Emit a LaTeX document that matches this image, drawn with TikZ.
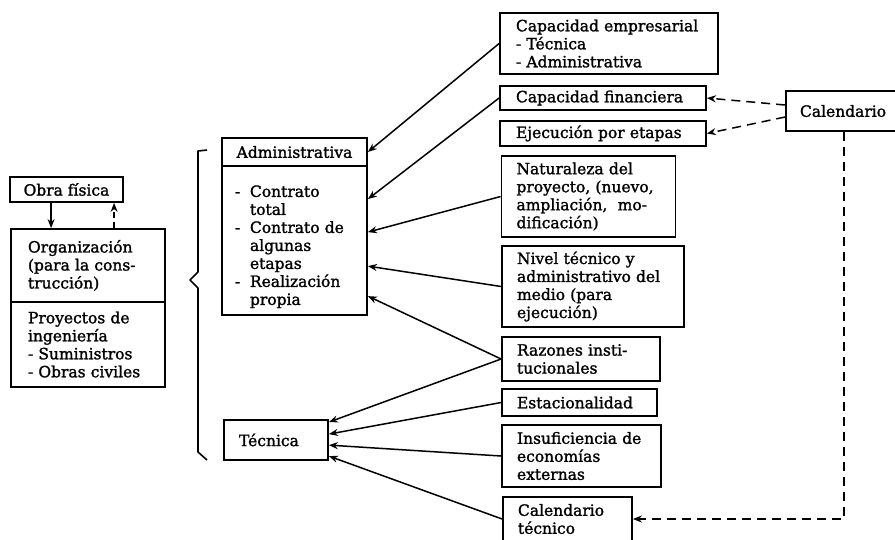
\documentclass[tikz,border=0pt]{standalone}
\usepackage{fontspec}
\setmainfont[FakeBold=1.5]{DejaVu Serif}
\usetikzlibrary{arrows.meta}
\newcommand\txtfont{\fontsize{15.5}{18}\selectfont}
\newcommand\itm{\makebox[15pt][l]{-}}
\newcommand\ind{\hspace*{15pt}}
\begin{document}
\begin{tikzpicture}[x=1pt,y=-1pt,
  box/.style={draw, line width=1.8pt, rectangle, inner xsep=15pt, inner ysep=0pt,
              align=left, font=\txtfont},
  arr/.style={line width=1.5pt, -{Stealth[length=9pt,width=7pt]}},
  darr/.style={arr, dash pattern=on 9pt off 6pt}]
\useasboundingbox (0,0) rectangle (895,539);
\fill[white] (0,0) rectangle (895,539);
\clip (0,0) rectangle (895,539);

% left column: physical work and its organisation
\node[box, align=center, minimum width=113pt, minimum height=25pt, inner xsep=4pt] (obra) at (66.5,189.5) {Obra física};
\node[box, inner xsep=17pt, text width=120pt, minimum height=73pt] (org1) at (88,265.5)
  {Organización\\(para la cons-\\trucción)};
\node[box, inner xsep=17pt, text width=120pt, minimum height=85pt] (org2) at (88,344.5)
  {Proyectos de\\ingeniería\\- Suministros\\- Obras civiles};

% middle column
\node[box, align=center, inner xsep=13pt, text width=119pt, minimum height=28pt] (adm) at (294.5,152) {Administrativa};
\node[box, inner xsep=13pt, text width=119pt, minimum height=149pt] (admb) at (294.5,240.5)
  {\rule{0pt}{24pt}\itm Contrato\\\ind total\\\itm Contrato de\\\ind algunas\\\ind etapas\\\itm Realización\\\ind propia};
\node[box, text width=74pt, minimum height=40pt] (tec) at (276,440) {Técnica};

% grouping brace
\draw[line width=1.6pt, line join=round] (207,150) -- (198,151) -- (198,272) -- (190,280)
  -- (198,288) -- (198,452) -- (207,460);

% right column
\node[box, inner xsep=16pt, text width=186pt, minimum height=61pt] (emp) at (609,43.5)
  {Capacidad empresarial\\- Técnica\\- Administrativa};
\node[box, inner xsep=16pt, text width=174pt, minimum height=24pt] (fin) at (603,98) {Capacidad financiera};
\node[box, inner xsep=16pt, text width=174pt, minimum height=25pt] (eje) at (603,133.5) {Ejecución por etapas};
\node[box, inner xsep=15pt, text width=144pt, minimum height=81pt] (nat) at (588.5,196.5)
  {Naturaleza del\\proyecto, (nuevo,\\ampliación, \ mo-\\dificación)};
\node[box, inner xsep=15pt, text width=152pt, minimum height=81pt] (niv) at (593,286.5)
  {Nivel técnico y\\administrativo del\\medio (para\\ejecución)};
\node[box, text width=128pt, minimum height=44pt] (raz) at (581,359)
  {Razones insti-\\tucionales};
\node[box, text width=125pt, minimum height=27pt] (est) at (579.5,402.5) {Estacionalidad};
\node[box, text width=129pt, minimum height=62pt] (ins) at (581.5,456)
  {Insuficiencia de\\economías\\externas};
\node[box, text width=99pt, minimum height=44pt] (calt) at (567.5,519)
  {Calendario\\técnico};
\node[box, inner xsep=14pt, text width=91pt, minimum height=40pt] (cal) at (845.5,111) {Calendario};

% links between the left boxes
\draw[arr] ([xshift=42pt]obra.south west) -- ([xshift=41pt]org1.north west);
\draw[arr, dash pattern=on 6pt off 4pt] ([xshift=104pt]org1.north west) -- ([xshift=105pt]obra.south west);

% factors for the administrative form
\draw[arr] (emp.west) -- (adm.east);
\draw[arr] (fin.west) -- ([yshift=-34pt]admb.north east);
\draw[arr] (nat.west) -- ([yshift=-67pt]admb.north east);
\draw[arr] (niv.west) -- ([yshift=-101pt]admb.north east);
\draw[arr] (raz.west) -- ([yshift=-131pt]admb.north east);

% factors for the technical form
\draw[arr] (raz.west) -- ([yshift=-3pt]tec.north east);
\draw[arr] (est.west) -- ([yshift=-15pt]tec.north east);
\draw[arr] (ins.west) -- ([yshift=-26pt]tec.north east);
\draw[arr] (calt.west) -- ([yshift=-37pt]tec.north east);

% schedule links
\draw[darr] ([yshift=6pt]cal.west) -- (fin.east);
\draw[darr] ([yshift=-6pt]cal.west) -- (eje.east);
\draw[darr] ([xshift=59pt]cal.south west) |- (calt.east);
\end{tikzpicture}
\end{document}
